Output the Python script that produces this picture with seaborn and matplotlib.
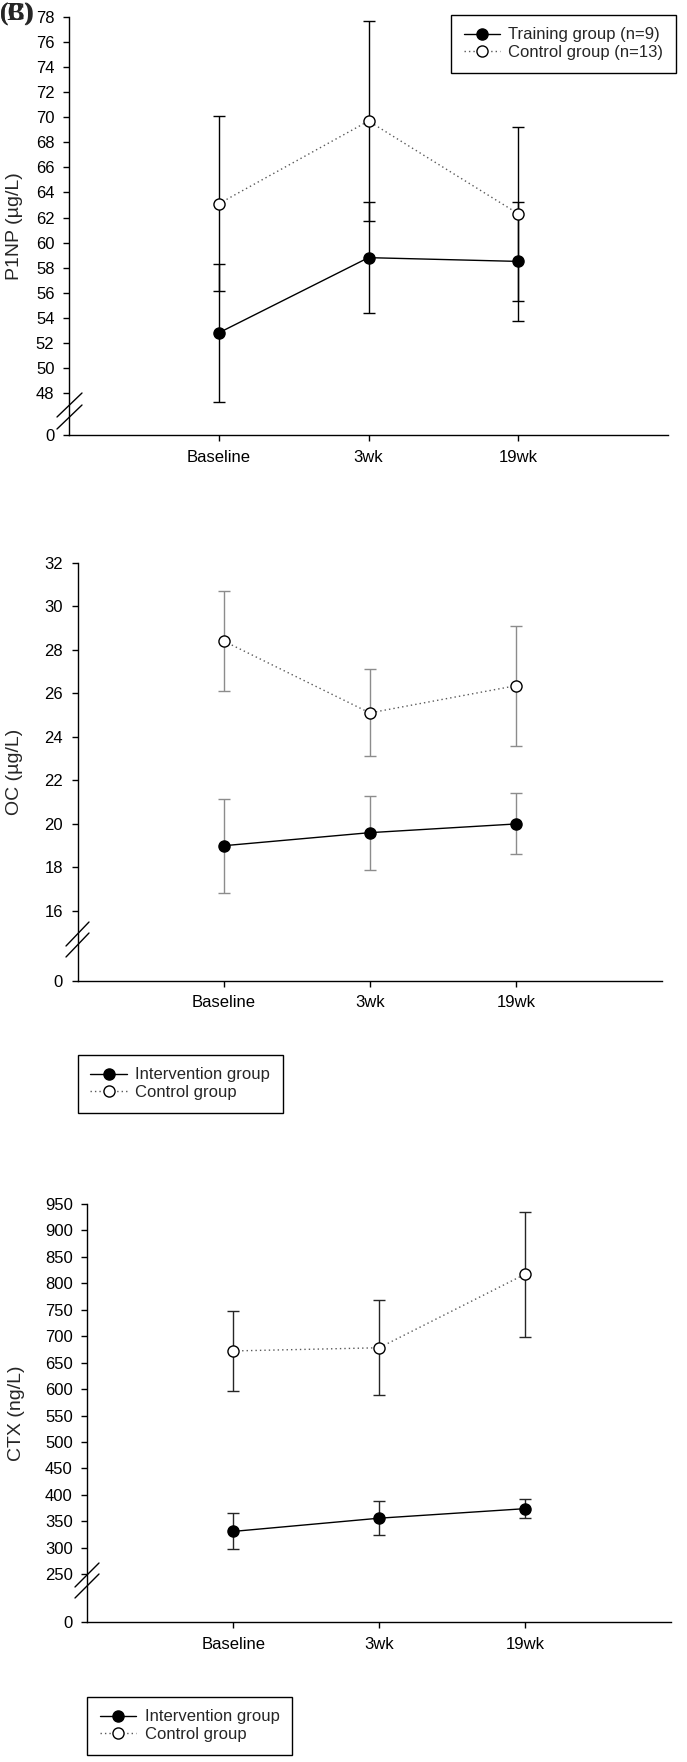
import numpy as np
import pandas as pd
import matplotlib
matplotlib.use('Agg')
import matplotlib.pyplot as plt
from matplotlib.lines import Line2D
import seaborn as sns

# values (mean, error bar half-length)
timepoints = ['Baseline', '3wk', '19wk']

p1np_train = [52.8, 58.8, 58.5]
p1np_train_err = [5.5, 4.45, 4.75]
p1np_ctrl = [63.1, 69.7, 62.3]
p1np_ctrl_err = [7.0, 7.95, 6.95]

oc_int = [19.0, 19.6, 20.0]
oc_int_err = [2.15, 1.7, 1.4]
oc_ctrl = [28.4, 25.1, 26.35]
oc_ctrl_err = [2.3, 2.0, 2.75]

ctx_int = [331, 356, 374]
ctx_int_err = [34, 32, 18]
ctx_ctrl = [672, 678, 817]
ctx_ctrl_err = [75, 90, 118]

p1np_ticks = list(range(48, 79, 2))
oc_ticks = list(range(16, 33, 2))
ctx_ticks = list(range(250, 951, 50))

sns.set_style('ticks')
plt.rcParams['font.family'] = ['Liberation Sans', 'DejaVu Sans']
plt.rcParams['axes.linewidth'] = 1.0

W, H = 687, 1762
fig = plt.figure(figsize=(W / 100, H / 100), dpi=100)


def px_axes(left, top, right, bottom):
    return fig.add_axes([left / W, 1 - bottom / H, (right - left) / W, (bottom - top) / H])


def panel(ax, series, ticks, zero_pos, ylabel, err_color, label_x):
    x = np.arange(1, len(timepoints) + 1)
    handles = []
    for name, vals, errs, filled in series:
        ax.errorbar(x, vals, yerr=errs, fmt='none', ecolor=err_color,
                    elinewidth=1.0, capsize=4.5, capthick=1.0, zorder=2)
    for name, vals, errs, filled in series:
        df = pd.DataFrame({'x': x, 'value': vals})
        sns.lineplot(data=df, x='x', y='value', ax=ax, errorbar=None,
                     color='black' if filled else '0.35',
                     linestyle='-' if filled else (0, (1, 2.2)),
                     linewidth=1.0, marker='o', markersize=8,
                     markerfacecolor='black' if filled else 'white',
                     markeredgecolor='black', markeredgewidth=1.0, zorder=3)
        handles.append(Line2D([], [], color='black' if filled else '0.35',
                              linestyle='-' if filled else (0, (1, 2.2)),
                              linewidth=1.0, marker='o', markersize=8,
                              markerfacecolor='black' if filled else 'white',
                              markeredgecolor='black', label=name))
    ax.set_xlim(0, len(timepoints) + 1)
    ax.set_ylim(zero_pos, ticks[-1])
    ax.set_xticks(x)
    ax.set_xticklabels(timepoints)
    ax.set_yticks([zero_pos] + ticks)
    ax.set_yticklabels(['0'] + [str(t) for t in ticks])
    ax.set_xlabel('')
    ax.set_ylabel(ylabel, fontsize=14)
    ax.yaxis.set_label_coords(label_x, 0.5)
    ax.tick_params(axis='both', direction='out', length=4.5, width=1.0,
                   labelsize=12, pad=6, color='black', labelcolor='black')
    sns.despine(ax=ax)
    for s in ['left', 'bottom']:
        ax.spines[s].set_color('black')
    return handles


def axis_break(p1, p2, dy):
    for off in (0, dy):
        fig.add_artist(Line2D([p1[0] / W, p2[0] / W],
                              [1 - (p1[1] + off) / H, 1 - (p2[1] + off) / H],
                              color='black', linewidth=1.0,
                              transform=fig.transFigure))


def add_legend(ax, handles, anchor, loc):
    leg = ax.legend(handles=handles, loc=loc,
                    bbox_to_anchor=(anchor[0] / W, 1 - anchor[1] / H),
                    bbox_transform=fig.transFigure, fontsize=12,
                    frameon=True, fancybox=False, framealpha=1,
                    edgecolor='black', handlelength=2.2, handletextpad=0.5,
                    borderpad=0.75, labelspacing=0.15, borderaxespad=0)
    leg.get_frame().set_linewidth(1.0)


# panel 1: P1NP
ax1 = px_axes(69, 17, 668, 435)
h1 = panel(ax1, [('Training group (n=9)', p1np_train, p1np_train_err, True),
                 ('Control group (n=13)', p1np_ctrl, p1np_ctrl_err, False)],
           p1np_ticks, 44.65, 'P1NP (µg/L)', 'black', -0.077)
add_legend(ax1, h1, (676, 15), 'upper right')
axis_break((57, 417), (82, 393), 12)

# panel 2: OC
ax2 = px_axes(77.7, 562.7, 662, 980.7)
h2 = panel(ax2, [('Intervention group', oc_int, oc_int_err, True),
                 ('Control group', oc_ctrl, oc_ctrl_err, False)],
           oc_ticks, 12.8, 'OC (µg/L)', '0.55', -0.093)
add_legend(ax2, h2, (77.7, 1055), 'upper left')
axis_break((66, 946), (89, 922), 11)

# panel 3: CTX
ax3 = px_axes(87.3, 1203.8, 671, 1622.3)
h3 = panel(ax3, [('Intervention group', ctx_int, ctx_int_err, True),
                 ('Control group', ctx_ctrl, ctx_ctrl_err, False)],
           ctx_ticks, 159.3, 'CTX (ng/L)', '0.15', -0.107)
add_legend(ax3, h3, (87.3, 1697), 'upper left')
axis_break((75, 1587), (99, 1563), 11)

# overlapping panel letters in the corner
for letter in ['(B)', '(C)']:
    fig.text(0.0, 1 - 21 / H, letter, fontsize=18, fontweight='bold',
             family=['Liberation Serif', 'DejaVu Serif'], va='baseline', ha='left')

fig.savefig('out.png', dpi=100)
